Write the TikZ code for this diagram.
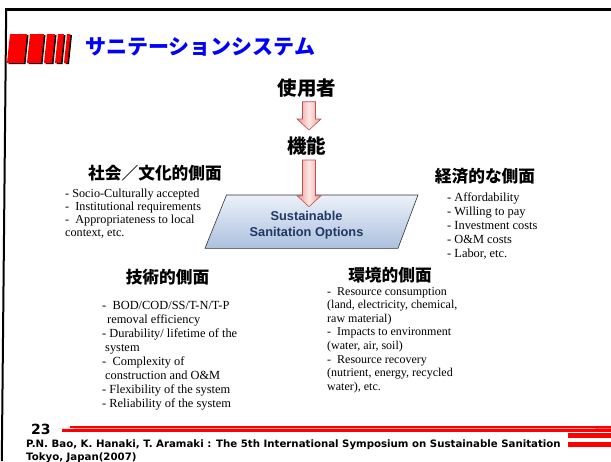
\documentclass[tikz,border=0pt]{standalone}
\usepackage{fontspec}
\setmainfont{Liberation Serif}
\newfontfamily\jp{Noto Sans CJK JP}
\newfontfamily\hsans{Liberation Sans}
\newfontfamily\vsans{DejaVu Sans}
\usetikzlibrary{calc}
\definecolor{pinkA}{RGB}{236,150,145}
\definecolor{pinkB}{RGB}{253,232,230}
\definecolor{arrowline}{RGB}{192,80,77}
\definecolor{optA}{RGB}{236,241,249}
\definecolor{optB}{RGB}{172,192,222}
\definecolor{navy}{RGB}{31,56,100}
\definecolor{slidered}{RGB}{255,0,0}
\tikzset{
  barrow/.style={draw=arrowline, line width=0.6pt, left color=pinkA, right color=pinkA, middle color=pinkB},
  jphead/.style={font=\jp\bfseries\fontsize{16.7}{18}\selectfont, inner sep=0pt},
  jpbig/.style={font=\jp\bfseries\fontsize{19.5}{21}\selectfont, inner sep=0pt},
  itemlist/.style={align=left, inner sep=0pt, anchor=base west},
  redbar/.style={fill=slidered},
  barshadow/.style={fill=black},
}
\newcommand\blockarrow[2]{%
  \path[barrow] ($(#1)+(-6.5,0)$) -- ($(#2)+(-6.5,-11)$) -- ($(#2)+(-12,-11)$) -- (#2)
     -- ($(#2)+(12,-11)$) -- ($(#2)+(6.5,-11)$) -- ($(#1)+(6.5,0)$) -- cycle;}
\newcommand\slidebar[2]{%
  \fill[barshadow] (#1+1.5,64) -- (#2+1.5,64) -- (#2+4.5,35) -- (#1+4.5,35) -- cycle;
  \fill[redbar] (#1,63) -- (#2,63) -- (#2+3,34) -- (#1+3,34) -- cycle;}
\begin{document}
\begin{tikzpicture}[x=1pt,y=-1pt]
\useasboundingbox (0,0) rectangle (611,461);
\fill[white] (0,0) rectangle (611,461);
% frame
\draw[line width=3pt] (5,9.5) -- (611,9.5);
\draw[line width=2pt] (6.2,9) -- (1.8,461);
% red bars
\slidebar{7}{24}
\slidebar{27}{41}
\slidebar{44}{52}
\slidebar{55}{61}
\slidebar{64}{67.5}
% title
\node[anchor=west, font=\jp\bfseries\fontsize{21}{24}\selectfont, text=blue, inner sep=0pt] (title) at (85,47) {サニテーションシステム};
% top labels
\node[jpbig] (user) at (307,88) {使用者};
\node[jpbig] (func) at (306.5,146) {機能};
% options parallelogram
\shade[top color=optA, bottom color=optB, draw=black!80, line width=0.6pt]
  (226.5,195) -- (418,195) -- (398,248.3) -- (205,248.3) -- cycle;
\node[font=\hsans\bfseries\fontsize{12.8}{16.6}\selectfont, text=navy, align=center, inner sep=0pt] (opt) at (306.5,225) {Sustainable\\Sanitation Options};
% block arrows
\coordinate (a1top) at (309,101.7);
\coordinate (a1tip) at (309,130);
\coordinate (a2top) at (309,160);
\coordinate (a2tip) at (309,206.7);
\blockarrow{a1top}{a1tip}
\blockarrow{a2top}{a2tip}
% headings
\node[jphead] (soc) at (155,173) {社会／文化的側面};
\node[jphead] (eco) at (485,176) {経済的な側面};
\node[jphead] (tec) at (167.5,277) {技術的側面};
\node[jphead] (env) at (390,275) {環境的側面};
% lists (anchored at the baseline of their last line)
\node[itemlist, font=\fontsize{12.2}{13}\selectfont] (socl) at (65,236) {- Socio-Culturally accepted\\- \ Institutional requirements\\- \ Appropriateness to local\\context, etc.};
\node[itemlist, font=\fontsize{12.4}{14.2}\selectfont] (ecol) at (447,257.8) {- Affordability\\- Willing to pay\\- Investment costs\\- O\&M costs\\- Labor, etc.};
\node[itemlist, font=\fontsize{12.4}{14.1}\selectfont] (tecl) at (102,407.7) {- \ BOD/COD/SS/T-N/T-P\\\hspace*{5pt}removal efficiency\\- Durability/ lifetime of the\\\hspace*{3pt}system\\- \ Complexity of\\\hspace*{3pt}construction and O\&M\\- Flexibility of the system\\- Reliability of the system};
\node[itemlist, font=\fontsize{12}{13.6}\selectfont] (envl) at (327,390.2) {- \ Resource consumption\\(land, electricity, chemical,\\raw material)\\- \ Impacts to environment\\(water, air, soil)\\- \ Resource recovery\\(nutrient, energy, recycled\\water), etc.};
% footer
\node[font=\vsans\bfseries\fontsize{14}{16}\selectfont, inner sep=0pt, anchor=west] (num) at (31,429) {23};
\fill[slidered] (60,428.3) -- (611,426) -- (611,428.5) -- cycle;
\draw[slidered, line width=2.3pt] (70,427.2) -- (611,427.2);
\draw[slidered, line width=2.3pt] (62,430.5) -- (611,430.5);
\draw[slidered, line width=4.4pt] (568,435.5) -- (611,435.5);
\draw[slidered, line width=4.4pt] (568,444.5) -- (611,444.5);
\node[font=\vsans\bfseries\fontsize{10.2}{12.3}\selectfont, inner sep=0pt, anchor=base west, align=left] (foot) at (26,460) {P.N. Bao, K. Hanaki, T. Aramaki : The 5th International Symposium on Sustainable Sanitation\\Tokyo, Japan(2007)};
\end{tikzpicture}
\end{document}
